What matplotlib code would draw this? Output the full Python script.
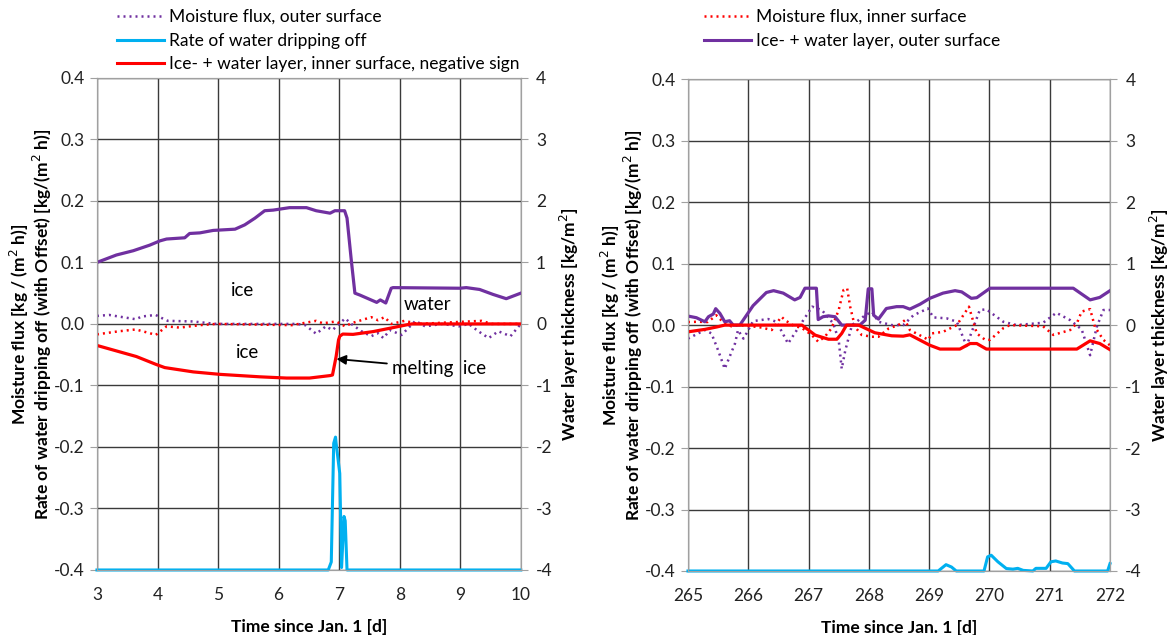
import matplotlib
matplotlib.use("Agg")
import matplotlib.pyplot as plt
from matplotlib.lines import Line2D

plt.rcParams["font.family"] = ["Lato", "DejaVu Sans"]

PURPLE = "#7030A0"
RED = "#FF0000"
CYAN = "#00B0F0"

# ---- left panel: days 3..10 ----------------------------------------
t_out_L = [3.0, 3.32, 3.6, 3.87, 4.04, 4.15, 4.45, 4.53, 4.7, 4.92, 5.28, 5.44,
           5.61, 5.77, 5.91, 6.18, 6.46, 6.62, 6.85, 6.93, 7.09, 7.13, 7.2,
           7.26, 7.34, 7.62, 7.68, 7.77, 7.86, 7.89, 8.99, 9.1, 9.32, 9.54,
           9.76, 10.0]
layer_out_L = [1.00, 1.12, 1.19, 1.28, 1.35, 1.38, 1.40, 1.47, 1.48, 1.52, 1.54,
               1.61, 1.72, 1.84, 1.85, 1.89, 1.89, 1.84, 1.80, 1.84, 1.84, 1.72,
               1.04, 0.50, 0.47, 0.35, 0.39, 0.34, 0.58, 0.59, 0.58, 0.59, 0.56,
               0.48, 0.41, 0.50]

t_in_L = [3.0, 3.65, 3.98, 4.12, 4.59, 5.03, 5.69, 6.13, 6.51, 6.85, 6.89, 6.95,
          6.99, 7.01, 7.06, 7.23, 7.56, 7.84, 8.11, 8.2, 10.0]
layer_in_L = [-0.35, -0.53, -0.66, -0.71, -0.78, -0.82, -0.86, -0.88, -0.88,
              -0.84, -0.83, -0.53, -0.26, -0.20, -0.165, -0.17, -0.125, -0.07,
              -0.016, 0.0, 0.0]

t_drip_L = [3.0, 6.82, 6.87, 6.91, 6.94, 6.95, 7.01, 7.04, 7.08, 7.10, 7.13, 10.0]
drip_L = [-0.4, -0.4, -0.387, -0.194, -0.184, -0.194, -0.243, -0.396, -0.313,
          -0.32, -0.4, -0.4]

t_fout_L = [3.0, 3.2, 3.36, 3.64, 3.74, 3.97, 4.06, 4.17, 4.58, 4.97, 6.3, 6.44,
            6.62, 6.78, 6.89, 7.0, 7.1, 7.2, 7.37, 7.53, 7.64, 7.73, 7.84, 8.03,
            8.26, 8.42, 8.7, 8.98, 9.14, 9.3, 9.47, 9.63, 9.83, 10.0]
flux_out_L = [0.013, 0.0146, 0.012, 0.0076, 0.012, 0.0146, 0.010, 0.005, 0.004,
              0.0, 0.0, -0.002, -0.016, -0.004, -0.010, 0.0, 0.009, 0.0, -0.012,
              -0.020, -0.015, -0.023, -0.010, -0.018, 0.005, -0.004, 0.0, -0.004,
              0.0, -0.012, -0.023, -0.012, -0.020, 0.0]

t_fin_L = [3.0, 3.36, 3.64, 3.87, 3.97, 4.15, 4.37, 4.7, 4.97, 6.22, 6.62, 6.73,
           6.95, 7.1, 7.2, 7.53, 7.64, 7.75, 7.86, 8.08, 8.31, 9.35, 9.52, 10.0]
flux_in_L = [-0.017, -0.012, -0.009, -0.015, -0.018, -0.004, -0.006, -0.002, 0.0,
             -0.002, 0.005, 0.001, 0.004, -0.004, 0.001, 0.011, 0.006, 0.011, 0.0,
             0.005, 0.0, 0.005, 0.0, 0.0]

# ---- right panel: days 265..272 ------------------------------------
t_out_R = [265.0, 265.14, 265.28, 265.34, 265.42, 265.46, 265.53, 265.61, 265.69,
           265.75, 265.86, 266.08, 266.30, 266.42, 266.58, 266.77, 266.86,
           266.94, 267.13, 267.16, 267.24, 267.33, 267.44, 267.55, 267.85,
           267.94, 267.99, 268.05, 268.08, 268.16, 268.29, 268.46, 268.57,
           268.68, 268.85, 269.01, 269.23, 269.43, 269.54, 269.70, 269.79,
           270.01, 271.39, 271.67, 271.83, 272.0]
layer_out_R = [0.147, 0.12, 0.054, 0.136, 0.18, 0.267, 0.19, 0.054, 0.071, 0.0,
               0.0, 0.316, 0.53, 0.56, 0.52, 0.41, 0.45, 0.60, 0.60, 0.09, 0.136,
               0.15, 0.136, 0.0, 0.0, 0.08, 0.59, 0.59, 0.16, 0.098, 0.27, 0.30,
               0.30, 0.26, 0.34, 0.435, 0.52, 0.56, 0.54, 0.435, 0.446, 0.60,
               0.60, 0.41, 0.45, 0.56]

t_in_R = [265.0, 265.28, 265.48, 265.61, 266.89, 267.11, 267.33, 267.47, 267.55,
          267.63, 267.83, 268.10, 268.38, 268.57, 268.68, 269.01, 269.18,
          269.51, 269.68, 269.79, 269.95, 271.45, 271.67, 271.83, 272.0]
layer_in_R = [-0.11, -0.07, -0.03, 0.0, 0.0, -0.163, -0.23, -0.23, -0.136, 0.0,
              0.0, -0.125, -0.174, -0.18, -0.158, -0.327, -0.39, -0.39, -0.30,
              -0.30, -0.39, -0.39, -0.256, -0.30, -0.40]

t_drip_R = [265.0, 269.15, 269.28, 269.37, 269.45, 269.91, 269.97, 270.03,
            270.14, 270.28, 270.39, 270.47, 270.56, 270.72, 270.77, 270.94,
            271.02, 271.10, 271.21, 271.30, 271.41, 271.96, 272.0]
drip_R = [-0.4, -0.4, -0.3897, -0.3935, -0.4, -0.4, -0.377, -0.3744, -0.385,
          -0.396, -0.397, -0.3957, -0.399, -0.4, -0.3957, -0.3957, -0.385,
          -0.3837, -0.387, -0.388, -0.4, -0.4, -0.388]

t_fout_R = [265.0, 265.12, 265.28, 265.39, 265.50, 265.61, 265.78, 265.83,
            265.92, 265.97, 266.08, 266.33, 266.47, 266.66, 266.86, 267.06,
            267.22, 267.41, 267.50, 267.55, 267.61, 267.72, 267.94, 268.05,
            268.16, 268.38, 268.57, 268.74, 268.98, 269.07, 269.29, 269.46,
            269.62, 269.84, 269.95, 270.23, 270.45, 270.89, 271.11, 271.34,
            271.53, 271.67, 271.78, 271.89, 272.0]
flux_out_R = [-0.022, -0.016, -0.008, -0.0136, -0.041, -0.071, -0.030, -0.008,
              -0.022, -0.0136, 0.0065, 0.0098, 0.0054, -0.030, 0.0, 0.030, 0.0245,
              0.0027, -0.0245, -0.071, -0.041, 0.0, 0.016, 0.0217, 0.0054, 0.0,
              0.0, 0.016, 0.027, 0.0125, 0.011, 0.0054, -0.034, 0.0245, 0.0256,
              0.0054, 0.0, 0.0038, 0.020, 0.008, -0.0071, -0.049, -0.003, 0.0245,
              0.0245]

t_fin_R = [265.0, 265.17, 265.33, 265.47, 265.58, 265.72, 265.83, 266.06, 266.22,
           266.39, 266.55, 266.61, 266.77, 266.88, 267.05, 267.16, 267.27,
           267.38, 267.50, 267.58, 267.64, 267.69, 267.77, 267.88, 268.05,
           268.16, 268.33, 268.49, 268.60, 268.68, 268.99, 269.04, 269.23,
           269.46, 269.66, 269.79, 269.93, 270.01, 270.23, 270.34, 270.89,
           271.06, 271.34, 271.45, 271.53, 271.67, 271.75, 271.89, 272.0]
flux_in_R = [0.005, 0.0054, 0.005, 0.016, 0.005, -0.002, 0.0, -0.002, -0.004,
             -0.008, 0.0136, 0.008, -0.002, -0.004, -0.016, -0.027, -0.019,
             -0.0054, 0.0245, 0.057, 0.060, 0.030, -0.003, -0.016, -0.019, -0.019,
             -0.0054, 0.0, 0.008, -0.008, -0.024, -0.0136, -0.011, 0.0, 0.030,
             -0.0136, -0.024, -0.024, -0.005, 0.0, -0.002, -0.016, -0.008, 0.003,
             0.022, 0.026, -0.003, -0.024, -0.033]

flux_ticks = [0.4, 0.3, 0.2, 0.1, 0.0, -0.1, -0.2, -0.3, -0.4]
layer_ticks = [4, 3, 2, 1, 0, -1, -2, -3, -4]

LEFT_LABEL = ("Moisture flux [kg / (m$^2$ h)]\n"
              "Rate of water dripping off (with Offset) [kg/(m$^2$ h)]")
RIGHT_LABEL = "Water layer thickness [kg/m$^2$]"

DOT = (0, (0.8, 1.6))


def panel(fig, rect, xlim, t_fout, fout, t_fin, fin, t_drip, drip,
          t_lo, lo, t_li, li):
    ax = fig.add_axes(rect)
    ax2 = ax.twinx()
    ax.plot(t_fout, fout, color=PURPLE, lw=1.8, ls=DOT)
    ax.plot(t_fin, fin, color=RED, lw=1.8, ls=DOT)
    ax.plot(t_drip, drip, color=CYAN, lw=2.2, clip_on=False, zorder=5)
    ax2.plot(t_lo, lo, color=PURPLE, lw=2.3)
    ax2.plot(t_li, li, color=RED, lw=2.3)

    ax.set_xlim(*xlim)
    ax.set_ylim(-0.4, 0.4)
    ax2.set_ylim(-4, 4)
    ax.set_xticks(range(xlim[0], xlim[1] + 1))
    ax.set_yticks(flux_ticks)
    ax.set_yticklabels([f"{v:.1f}" for v in flux_ticks])
    ax2.set_yticks(layer_ticks)
    ax2.set_yticklabels([str(v) for v in layer_ticks])
    ax.grid(True, color="#3a3a3a", lw=1.0)
    ax.set_axisbelow(True)
    for a in (ax, ax2):
        for s in a.spines.values():
            s.set_color("#a0a0a0")
        a.tick_params(labelsize=12.5, colors="#222222")
    ax.tick_params(axis="y", length=5, color="#a0a0a0", pad=4)
    ax.tick_params(axis="x", length=0, pad=12)
    ax2.tick_params(axis="y", length=5, color="#a0a0a0", pad=6)
    ax.set_xlabel("Time since Jan. 1 [d]", fontsize=12.5, fontweight="bold",
                  labelpad=12)
    ax.set_ylabel(LEFT_LABEL, fontsize=12.5, fontweight="bold", labelpad=0,
                  linespacing=1.0)
    ax2.set_ylabel(RIGHT_LABEL, fontsize=12.5, fontweight="bold", labelpad=4)
    return ax, ax2


fig = plt.figure(figsize=(11.74, 6.35), dpi=100)

axL, axL2 = panel(fig, [0.0826, 0.1024, 0.361, 0.775], (3, 10),
                  t_fout_L, flux_out_L, t_fin_L, flux_in_L, t_drip_L, drip_L,
                  t_out_L, layer_out_L, t_in_L, layer_in_L)
axR, axR2 = panel(fig, [0.586, 0.1008, 0.3595, 0.7745], (265, 272),
                  t_fout_R, flux_out_R, t_fin_R, flux_in_R, t_drip_R, drip_R,
                  t_out_R, layer_out_R, t_in_R, layer_in_R)

# annotations on the left panel
axL.text(5.41, 0.055, "ice", fontsize=13.5, ha="center", va="center")
axL.text(8.46, 0.031, "water", fontsize=13.5, ha="center", va="center")
axL.text(5.49, -0.046, "ice", fontsize=13.5, ha="center", va="center")
axL.annotate("melting  ice", xy=(6.955, -0.057), xytext=(7.88, -0.072),
             fontsize=13.5, ha="left", va="center",
             arrowprops=dict(arrowstyle="-|>", color="black", lw=1.3,
                             mutation_scale=14, shrinkA=2, shrinkB=0))

# legends
hL = [Line2D([], [], color=PURPLE, lw=1.8, ls=DOT),
      Line2D([], [], color=CYAN, lw=2.2),
      Line2D([], [], color=RED, lw=2.2)]
fig.legend(hL, ["Moisture flux, outer surface", "Rate of water dripping off",
                "Ice- + water layer, inner surface, negative sign"],
           loc="upper left", bbox_to_anchor=(0.088, 1.008), frameon=False,
           fontsize=12.5, handlelength=2.7, handletextpad=0.3,
           labelspacing=0.45, borderpad=0.3)
hR = [Line2D([], [], color=RED, lw=1.8, ls=DOT),
      Line2D([], [], color=PURPLE, lw=2.2)]
fig.legend(hR, ["Moisture flux, inner surface",
                "Ice- + water layer, outer surface"],
           loc="upper left", bbox_to_anchor=(0.588, 1.008), frameon=False,
           fontsize=12.5, handlelength=2.7, handletextpad=0.3,
           labelspacing=0.45, borderpad=0.3)

fig.savefig("out.png", dpi=100)
